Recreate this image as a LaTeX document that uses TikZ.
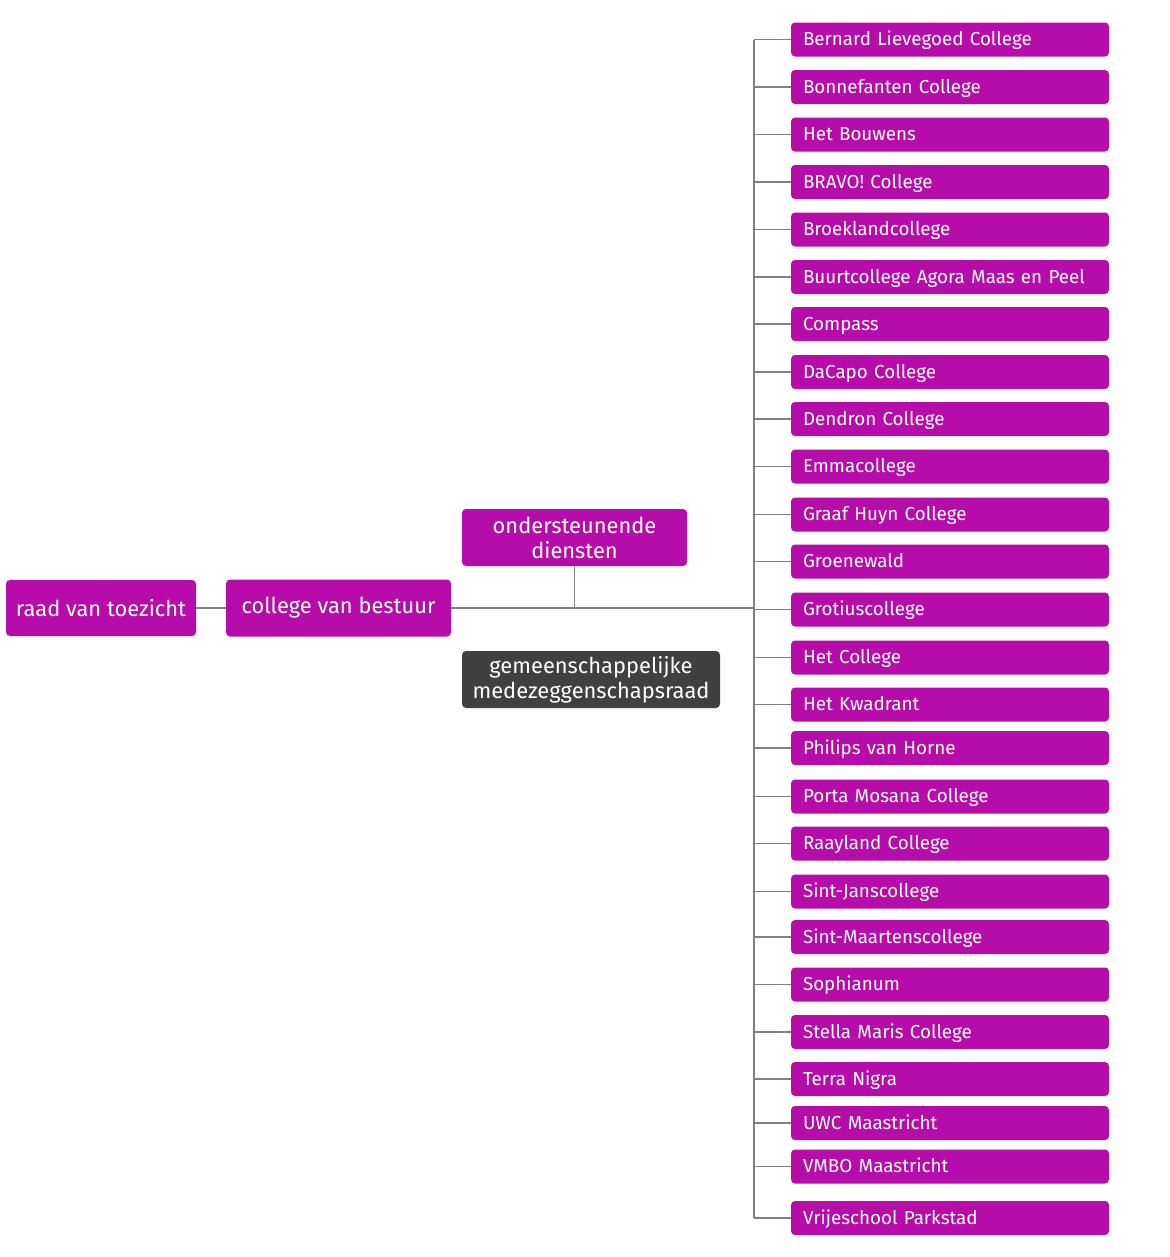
\documentclass[tikz,border=0pt]{standalone}
\usepackage{fontspec}
\setmainfont{Fira Sans}
\definecolor{plum}{HTML}{B60DAA}
\definecolor{slate}{HTML}{404040}
\definecolor{wire}{HTML}{808080}
\tikzset{
  unit/.style={fill=plum, text=white, rounded corners=3pt, align=center, inner sep=0pt,
    font=\fontsize{16.4}{18.8}\selectfont},
  school/.style={fill=plum, text=white, rounded corners=3pt, minimum height=25.5pt,
    text width=220.5pt, inner xsep=9pt, inner ysep=0pt, align=left,
    text height=10.5pt, text depth=1.5pt, font=\fontsize{14.1}{15}\selectfont},
  link/.style={draw=wire, line width=1.1pt},
}
\begin{document}
\begin{tikzpicture}[x=0.75pt,y=-0.75pt]
\useasboundingbox (0,0) rectangle (1170,1257);
%%
\node (rvt) at (101,608) [unit, minimum width=142.5pt, minimum height=42pt] {raad van toezicht};
\node (cvb) at (338.5,608) [unit, minimum width=168.75pt, minimum height=42.75pt] {college van bestuur};
\node (ond) at (574.5,537.5) [unit, minimum width=168.75pt, minimum height=42.75pt] {ondersteunende\\diensten};
\node (gmr) at (591,679.5) [unit, fill=slate, minimum width=193.5pt, minimum height=42.75pt] {gemeenschappelijke\\medezeggenschapsraad};
\coordinate (spine) at (754,608);
%% schools
\foreach \y/\name [count=\i] in {39.5/Bernard Lievegoed College, 87/Bonnefanten College,
    134.5/Het Bouwens, 182/BRAVO! College, 229.5/Broeklandcollege,
    277/Buurtcollege Agora Maas en Peel, 324/Compass, 372/DaCapo College,
    419/Dendron College, 466.5/Emmacollege, 514.5/Graaf Huyn College,
    561.5/Groenewald, 609.5/Grotiuscollege, 657.5/Het College, 704.5/Het Kwadrant,
    748/Philips van Horne, 796.5/Porta Mosana College, 843.5/Raayland College,
    891.5/Sint-Janscollege, 937/Sint-Maartenscollege, 984.5/Sophianum,
    1032/Stella Maris College, 1079/Terra Nigra, 1123/UWC Maastricht,
    1166.5/VMBO Maastricht, 1218/Vrijeschool Parkstad}{
  \node (s\i) at (950,\y) [school] {\name};
  \draw [link] (s\i.west) -- (s\i.west -| spine);
}
\draw [link] (s1.west -| spine) -- (s26.west -| spine);
\draw [link] (rvt) -- (cvb);
\draw [link] (cvb.east) -- (spine);
\draw [link] (ond.south) -- (ond.south |- spine);
%
\end{tikzpicture}
\end{document}
